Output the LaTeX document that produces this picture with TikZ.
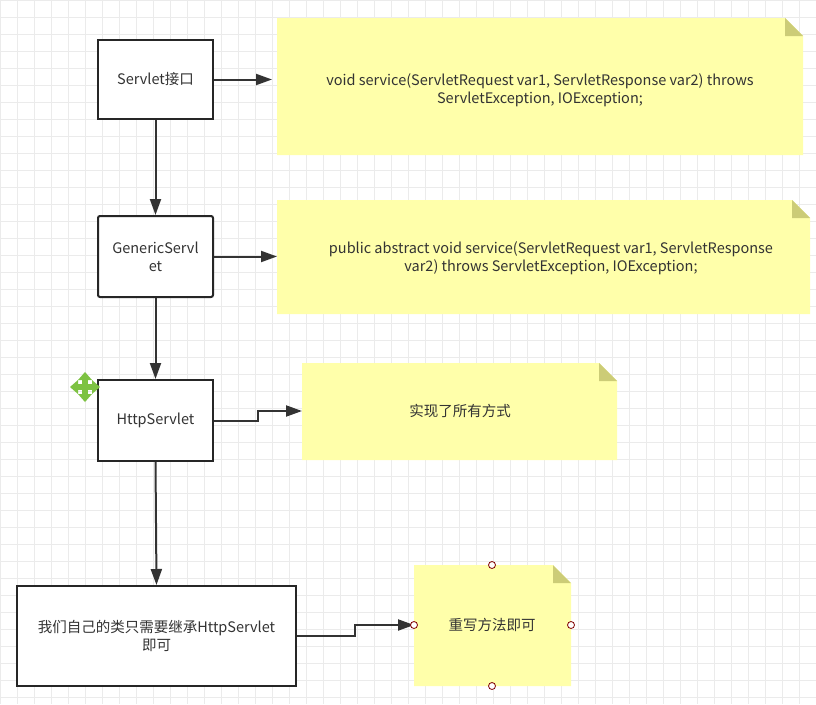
\documentclass[tikz,border=0pt]{standalone}
\usepackage{fontspec}
\setmainfont{Noto Sans CJK SC}
\usetikzlibrary{arrows.meta}
\definecolor{notey}{HTML}{FFFFAA}
\definecolor{fold}{HTML}{CCCC77}
\definecolor{gridc}{HTML}{EBEBEB}
\definecolor{txt}{HTML}{333333}
\definecolor{mv}{HTML}{7DC242}
\tikzset{
 box/.style={draw=black!85,line width=2pt,fill=white,text=txt,align=center,font=\fontsize{14.5}{18}\selectfont},
 note/.style={text=txt,align=center,font=\fontsize{14.5}{18}\selectfont},
 arr/.style={draw=black!80,line width=2pt,-{Triangle[length=16pt,width=11pt]}},
 handle/.style={circle,draw=red!50!black,fill=white,inner sep=0pt,minimum size=7pt,line width=0.8pt}
}
\newcommand{\mynote}[4]{% x1,y1,x2,y2
 \fill[notey] (#1,#2) -- ({#3-18},#2) -- (#3,{#2+18}) -- (#3,#4) -- (#1,#4) -- cycle;
 \fill[fold] ({#3-18},#2) -- (#3,{#2+18}) -- ({#3-18},{#2+18}) -- cycle;}
\begin{document}
\begin{tikzpicture}[x=1pt,y=-1pt]
\useasboundingbox (0,0) rectangle (816,704);
\fill[white] (0,0) rectangle (816,704);
\foreach \i in {0,17,...,816} \draw[gridc,line width=0.8pt] (\i,0) -- (\i,704);
\foreach \i in {0,17,...,704} \draw[gridc,line width=0.8pt] (0,\i) -- (816,\i);
\mynote{277}{18}{803}{155}
\mynote{277}{200}{810}{314}
\mynote{302}{363}{617}{460}
\mynote{414}{565}{571}{686}
\node[box,minimum width=115pt,minimum height=79pt] (s) at (155.5,79.5) {Servlet接口};
\node[box,rounded corners=2pt,minimum width=115pt,minimum height=81pt,text width=95pt] (g) at (155.5,256.5) {GenericServl\\et};
\node[box,minimum width=115pt,minimum height=81pt] (h) at (155.5,420.5) {HttpServlet};
\node[box,minimum width=279pt,minimum height=100pt] (m) at (156.5,636) {我们自己的类只需要继承HttpServlet\\即可};
\node[note] (n1) at (540,90) {void service(ServletRequest var1, ServletResponse var2) throws\\ServletException, IOException;};
\node[note] (n2) at (551,258) {public abstract void service(ServletRequest var1, ServletResponse\\var2) throws ServletException, IOException;};
\node[note] (n3) at (460,411) {实现了所有方式};
\node[note] (n4) at (492,625) {重写方法即可};
\coordinate (e1) at (272,79.5);
\coordinate (e2) at (277,256.5);
\coordinate (e3) at (302,411);
\coordinate (e4) at (414,625);
\draw[arr] (s.east) -- (e1);
\draw[arr] (g.east) -- (e2);
\draw[arr] (h.east) -- (258,420.5) -- (258,411) -- (e3);
\draw[arr] (m.east) -- (355,636) -- (355,625) -- (e4);
\draw[arr] (s.south) -- (g.north);
\draw[arr] (g.south) -- (h.north);
\draw[arr] (h.south) -- (m.north);
\node[handle] (c1) at (492,565) {};
\node[handle] (c2) at (414,625) {};
\node[handle] (c3) at (571,625) {};
\node[handle] (c4) at (492,686) {};
% move icon
\begin{scope}[shift={(85,387)}]
\fill[mv] (-3,-9) rectangle (3,9);
\fill[mv] (-9,-3) rectangle (9,3);
\fill[mv] (0,-15) -- (-7,-7) -- (7,-7) -- cycle;
\fill[mv] (0,15) -- (-7,7) -- (7,7) -- cycle;
\fill[mv] (-15,0) -- (-7,-7) -- (-7,7) -- cycle;
\fill[mv] (15,0) -- (7,-7) -- (7,7) -- cycle;
\end{scope}
\end{tikzpicture}
\end{document}
